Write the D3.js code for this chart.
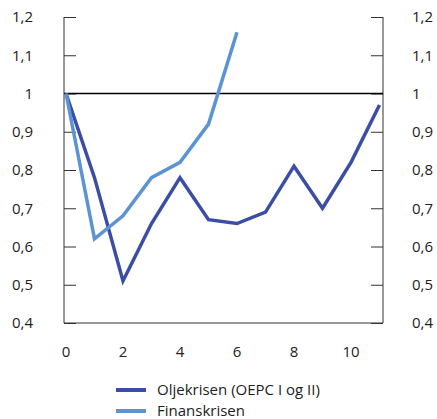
<!DOCTYPE html>
<html><head><meta charset="utf-8">
<script src="https://cdn.jsdelivr.net/npm/d3@7"></script>
<style>body{margin:0;background:#fff}svg{display:block}text{font-family:"Open Sans",sans-serif;fill:#222}</style>
</head><body>
<script>
const periods = [0,1,2,3,4,5,6,7,8,9,10,11];
const oljekrisen = [1.0,0.78,0.51,0.66,0.78,0.67,0.66,0.69,0.81,0.70,0.82,0.97];
const finanskrisen = [1.0,0.62,0.68,0.78,0.82,0.92,1.16];
const yTicks = [0.4,0.5,0.6,0.7,0.8,0.9,1.0,1.1,1.2];
const xTicks = [0,2,4,6,8,10];
const seriesNames = ["Oljekrisen (OEPC I og II)","Finanskrisen"];
const colors = ["#3a4ea6","#5b93d3"];

(function(){
const W=437,H=419;
const svg=d3.select("body").append("svg").attr("width",W).attr("height",H);
const pL=64,pR=383,pT=17,pB=323;
const x=d3.scaleLinear().domain([0,11]).range([66,379.5]);
const y=d3.scaleLinear().domain([0.4,1.2]).range([pB,pT]);
const fmt=d=>(d===1?"1":d3.format(".1f")(d).replace(".",","));

const la=svg.append("g").attr("transform",`translate(${pL},0)`)
  .call(d3.axisRight(y).tickValues(yTicks).tickSize(12).tickFormat(""));
la.select(".domain").remove();
la.selectAll("line").attr("stroke","#333").attr("stroke-width",1);
svg.append("line").attr("x1",pL).attr("x2",pL).attr("y1",pT).attr("y2",pB).attr("stroke","#333");
const ra=svg.append("g").attr("transform",`translate(${pR},0)`)
  .call(d3.axisLeft(y).tickValues(yTicks).tickSize(12).tickFormat(""));
ra.select(".domain").remove();
ra.selectAll("line").attr("stroke","#333").attr("stroke-width",1);
svg.append("line").attr("x1",pR).attr("x2",pR).attr("y1",pT).attr("y2",pB).attr("stroke","#333");
svg.append("line").attr("x1",pL).attr("x2",pR).attr("y1",pB).attr("y2",pB).attr("stroke","#333");
yTicks.forEach(t=>{
  svg.append("text").attr("x",33).attr("y",y(t)).attr("dy","0.35em").attr("text-anchor","end").attr("font-size",15).text(fmt(t));
  svg.append("text").attr("x",412).attr("y",y(t)).attr("dy","0.35em").attr("text-anchor","start").attr("font-size",15).text(fmt(t));
});
xTicks.forEach(t=>{
  svg.append("text").attr("x",x(t)).attr("y",352).attr("dy","0.35em").attr("text-anchor","middle").attr("font-size",15).text(t);
});
svg.append("line").attr("x1",pL).attr("x2",pR).attr("y1",y(1)).attr("y2",y(1)).attr("stroke","#000").attr("stroke-width",1.5);

const line=d3.line().x((d,i)=>x(periods[i])).y(d=>y(d));
[oljekrisen,finanskrisen].forEach((s,k)=>{
  svg.append("path").attr("d",line(s)).attr("fill","none").attr("stroke",colors[k]).attr("stroke-width",3.5).attr("stroke-linejoin","miter");
});
seriesNames.forEach((n,k)=>{
  const ly=390+k*21;
  svg.append("line").attr("x1",116).attr("x2",146).attr("y1",ly).attr("y2",ly).attr("stroke",colors[k]).attr("stroke-width",4);
  svg.append("text").attr("x",157).attr("y",ly).attr("dy","0.35em").attr("font-size",15).text(n);
});
})();
</script>
</body></html>
